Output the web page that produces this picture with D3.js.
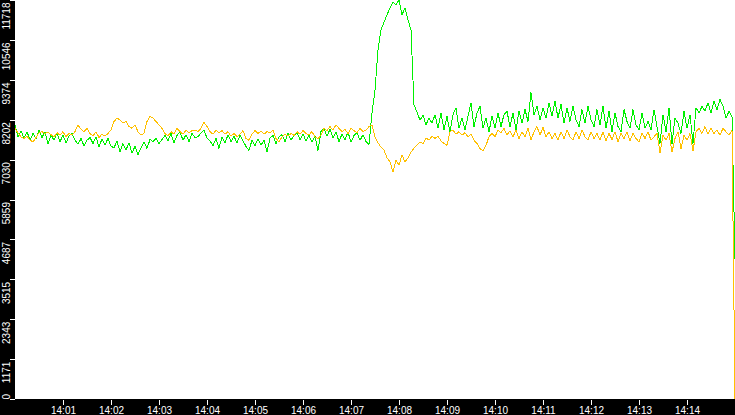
<!DOCTYPE html>
<html>
<head>
<meta charset="utf-8">
<script src="https://cdn.jsdelivr.net/npm/d3@7"></script>
<style>
    body { margin: 0; background: #ffffff; }
    svg { display: block; }
</style>
</head>
<body>
<svg id="chart"></svg>
<script>
// Data ----------
const startTime = new Date(2000, 0, 1, 14, 0, 0);
const endTime = new Date(2000, 0, 1, 14, 15, 0);
const sampleMs = 3750;

const yTicks = [0, 1171, 2343, 3515, 4687, 5859, 7030, 8202, 9374, 10546, 11718];
const xTickLabels = ["14:01", "14:02", "14:03", "14:04", "14:05", "14:06", "14:07",
    "14:08", "14:09", "14:10", "14:11", "14:12", "14:13", "14:14"];

const greenValues = [
    8050, 7700, 7880, 7650, 7850, 7600, 7800, 7650, 7900, 7680,
    7850, 7500, 7760, 7600, 7820, 7560, 7750, 7520, 7720, 7800,
    7600, 7480, 7650, 7430, 7600, 7680, 7500, 7700, 7400, 7640,
    7460, 7660, 7420, 7380, 7580, 7260, 7500, 7320, 7520, 7220,
    7420, 7180, 7380, 7540, 7360, 7620, 7560, 7650, 7500, 7620,
    7740, 7580, 7800, 7520, 7740, 7840, 7600, 7760, 7560, 7800,
    7680, 7700, 7820, 7900, 7660, 7580, 7440, 7660, 7360, 7700,
    7520, 7760, 7560, 7720, 7520, 7740, 7580, 7420, 7300, 7600,
    7440, 7640, 7460, 7600, 7260, 7660, 7740, 7500, 7700, 7760,
    7560, 7800, 7600, 7740, 7820, 7620, 7780, 7580, 7740, 7540,
    7720, 7300, 7860, 7940, 7720, 7920, 7660, 7840, 7560, 7780,
    7620, 7840, 7540, 7740, 7820, 7600, 7760, 7560, 7480, 8400,
    9075, 10250, 10840, 11070, 11280, 11480, 11660, 11570, 11718, 11280,
    11480, 11130, 10840, 8635, 8430, 8190, 8340, 8050, 8250, 8100,
    8350, 7950, 8400, 7900, 8300, 7850, 8350, 8550, 7950, 8250,
    7900, 8300, 8700, 8000, 8400, 8600, 7950, 8250, 7850, 8300,
    7950, 8400, 8000, 8350, 8450, 8000, 8400, 7900, 8450, 8100,
    8500, 8150, 9000, 8350, 8600, 8200, 8550, 8250, 8700, 8300,
    8750, 8250, 8650, 8100, 8550, 8150, 8600, 8200, 8000, 8500,
    8100, 8600, 8200, 8000, 8500, 8050, 8600, 7950, 8450, 7850,
    8400, 8000, 7850, 8500, 8150, 7950, 8500, 8050, 7900, 8400,
    7950, 8150, 7900, 8500, 8000, 7500, 8350, 7850, 8550, 7500,
    8250, 8100, 7800, 8450, 7950, 8350, 7500, 8550, 8400, 8600,
    8450, 8700, 8400, 8750, 8500, 8800, 8600, 8250, 8450, 8300,
    4100
];

const orangeValues = [
    7960, 7810, 7700, 7650, 7720, 7600, 7550, 7680, 7820, 7850,
    7800, 7830, 7760, 7700, 7820, 7750, 7850, 7700, 7800, 7760,
    7850, 8050, 7920, 7850, 7950, 7800, 7720, 7850, 7680, 7780,
    7720, 7800, 7900, 8150, 8250, 8200, 8100, 8150, 8000, 7950,
    8050, 7850, 7750, 7800, 8150, 8300, 8250, 8150, 8050, 7950,
    7800, 7720, 7850, 7780, 7950, 7850, 7780, 7900, 7820, 7880,
    7900, 7850, 7950, 8130, 8000, 7850, 7780, 7900, 7820, 7880,
    7780, 7850, 7720, 7800, 7700, 7780, 7880, 7650, 7600, 7780,
    7880, 7800, 7860, 7780, 7850, 7820, 7900, 7650, 7550, 7700,
    7780, 7720, 7800, 7740, 7850, 7780, 7880, 7800, 7760, 7850,
    7700, 7650, 7750, 7950, 7880, 8000, 7900, 8050, 7950, 7850,
    7920, 7800, 7950, 7880, 7820, 7950, 7850, 7900, 8000, 8050,
    7700, 7520, 7400, 7310, 7080, 6960, 6670, 7020, 6870, 7170,
    6960, 7080, 7250, 7370, 7460, 7550, 7500, 7670, 7600, 7720,
    7650, 7720, 7580, 7500, 7450, 7850, 7900, 7780, 7850, 7750,
    7820, 7700, 7780, 7600, 7500, 7350, 7300, 7450, 7700, 7800,
    7700, 7900, 7820, 7950, 7750, 7880, 7700, 7900, 7650, 7850,
    7700, 7950, 7600, 7850, 8000, 7750, 7980, 7700, 7850, 7650,
    7800, 7600, 7850, 7650, 7900, 7700, 7600, 7850, 7650, 7900,
    7700, 7600, 7850, 7650, 7800, 7600, 7850, 7580, 7800, 7620,
    7850, 7550, 7800, 7650, 7850, 7580, 7800, 7650, 7550, 7820,
    7650, 7850, 7600, 7700, 7800, 7230, 7750, 7600, 7800, 7250,
    7650, 7850, 7350, 7750, 7600, 7800, 7280, 7850, 7950, 7800,
    8000, 7780, 7950, 7800, 7900, 7750, 7950, 7850, 7750, 7900,
    0
];

// Layout ----------
const width = 735;
const height = 415;
const plotLeft = 15;
const plotBottom = 399;

const svg = d3.select("#chart")
    .attr("width", width)
    .attr("height", height)
    .style("font-family", "'Liberation Sans', Arial, sans-serif");

const timeOf = i => new Date(startTime.getTime() + i * sampleMs);
const parseTick = d3.timeParse("%H:%M");
const xTickTimes = xTickLabels.map(s => {
    const t = parseTick(s);
    return new Date(2000, 0, 1, t.getHours(), t.getMinutes(), 0);
});

const x = d3.scaleTime()
    .domain([startTime, endTime])
    .range([plotLeft, width]);

const y = d3.scaleLinear()
    .domain([0, yTicks[yTicks.length - 1]])
    .range([plotBottom, 0]);

// Background ----------
svg.append("rect")
    .attr("x", 0).attr("y", 0)
    .attr("width", width).attr("height", height)
    .style("fill", "#ffffff");

svg.append("rect")
    .attr("x", 0).attr("y", 0)
    .attr("width", plotLeft).attr("height", height)
    .style("fill", "#000000");

svg.append("rect")
    .attr("x", 0).attr("y", plotBottom)
    .attr("width", width).attr("height", height - plotBottom)
    .style("fill", "#000000");

// Lines ----------
const line = d3.line()
    .x((d, i) => x(timeOf(i)))
    .y(d => y(d));

svg.append("path")
    .datum(greenValues)
    .attr("d", line)
    .style("fill", "none")
    .style("stroke", "#00f000")
    .style("stroke-width", 1)
    .style("shape-rendering", "crispEdges");

svg.append("path")
    .datum(orangeValues)
    .attr("d", line)
    .style("fill", "none")
    .style("stroke", "#ffc000")
    .style("stroke-width", 1)
    .style("shape-rendering", "crispEdges");

// Y axis ----------
const yAxis = svg.append("g")
    .attr("transform", `translate(${plotLeft},0)`)
    .call(d3.axisLeft(y).tickValues(yTicks).tickSize(5).tickFormat(d3.format("d")));

yAxis.select(".domain").remove();
yAxis.selectAll(".tick line")
    .style("stroke", "#ffffff")
    .style("shape-rendering", "crispEdges");
yAxis.selectAll(".tick text")
    .attr("transform", "rotate(-90)")
    .attr("dy", 0)
    .attr("y", -5)
    .attr("x", d => d === 0 ? 0 : -2)
    .attr("text-anchor", d => d === 0 ? "start" : "end")
    .style("fill", "#ffffff")
    .style("font-size", "10px")
    .style("font-family", "'Liberation Sans', Arial, sans-serif");

// X axis ----------
const xAxis = svg.append("g")
    .attr("transform", `translate(0,${plotBottom + 1})`)
    .call(d3.axisBottom(x).tickValues(xTickTimes).tickSize(5)
        .tickFormat((d, i) => xTickLabels[i]));

xAxis.select(".domain").remove();
xAxis.selectAll(".tick line")
    .style("stroke", "#ffffff")
    .style("shape-rendering", "crispEdges");
xAxis.selectAll(".tick text")
    .attr("y", 14)
    .attr("dy", 0)
    .style("fill", "#ffffff")
    .style("font-size", "10px")
    .style("font-family", "'Liberation Sans', Arial, sans-serif");
</script>
</body>
</html>
